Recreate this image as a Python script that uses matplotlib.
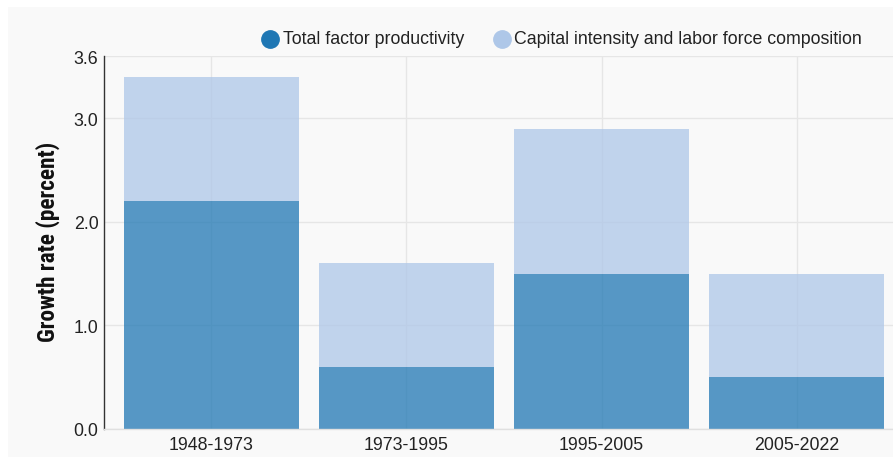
import matplotlib
matplotlib.use("Agg")
import matplotlib.pyplot as plt
from matplotlib.patches import Rectangle
from matplotlib.lines import Line2D
from matplotlib import font_manager

categories = ["1948-1973", "1973-1995", "1995-2005", "2005-2022"]
tfp = [2.2, 0.6, 1.5, 0.5]
capital_labor = [1.2, 1.0, 1.4, 1.0]
yticks = [0.0, 1.0, 2.0, 3.0, 3.6]
series_names = ["Total factor productivity", "Capital intensity and labor force composition"]
series_colors = ["#1f77b4", "#aec7e8"]

W, H = 893, 464
fig = plt.figure(figsize=(W / 100, H / 100), dpi=100)
fig.patch.set_facecolor("white")
fig.patches.append(Rectangle((8 / W, 6 / H), 1, 1 - 14 / H, transform=fig.transFigure,
                             facecolor="#f9f9f9", edgecolor="none", zorder=-10))

font = "Liberation Sans"
fs = 12.8
names = {f.name for f in font_manager.fontManager.ttflist}
narrow = next((n for n in ["Roboto Condensed", "Liberation Sans Narrow", "Arial Narrow",
                           "Archivo Narrow", "Asap Condensed", "DejaVu Sans"] if n in names))

# axes: x from 104 to 904 px, y from 57 to 430 px
ax = fig.add_axes([104 / W, (H - 430) / H, 800 / W, (430 - 57) / H])
ax.set_facecolor("none")
x = list(range(len(categories)))
ax.set_xlim(-0.55, len(categories) - 1 + 0.55)
ax.set_ylim(0, 3.6)

ax.bar(x, tfp, width=0.9, color=series_colors[0], alpha=0.75, zorder=2, edgecolor="none")
ax.bar(x, capital_labor, bottom=tfp, width=0.9, color=series_colors[1], alpha=0.75, zorder=2,
       edgecolor="none")

ax.set_yticks(yticks)
ax.set_yticklabels([f"{v:.1f}" for v in yticks], fontsize=fs, color="#222222", family=font)
ax.set_xticks(x)
ax.set_xticklabels(categories, fontsize=fs, color="#222222", family=font)
ax.tick_params(axis="x", length=0, pad=5)
ax.tick_params(axis="y", length=0, pad=4)
ax.grid(True, color="#e6e6e6", linewidth=1, zorder=1)
ax.set_axisbelow(True)

for s in ["top", "right"]:
    ax.spines[s].set_visible(False)
ax.spines["left"].set_color("#333333")
ax.spines["left"].set_linewidth(1)
ax.spines["bottom"].set_color("#e0e0e0")
ax.spines["bottom"].set_linewidth(1)

fig.text(48 / W, 1 - 242 / H, "Growth rate (percent)", rotation=90, ha="center", va="center",
         fontsize=16.8, fontweight="bold", family=narrow, color="#111111")

# legend (manual)
leg_y = 1 - 40 / H
for cx, tx, name, col in zip([270, 502], [283, 514], series_names, series_colors):
    fig.add_artist(Line2D([cx / W], [leg_y], marker="o", markersize=12.5, color=col,
                          linestyle="none", transform=fig.transFigure))
    fig.text(tx / W, leg_y, name, ha="left", va="center", fontsize=fs, family=font,
             color="#222222")

fig.savefig("out.png", dpi=100, facecolor=fig.get_facecolor())
